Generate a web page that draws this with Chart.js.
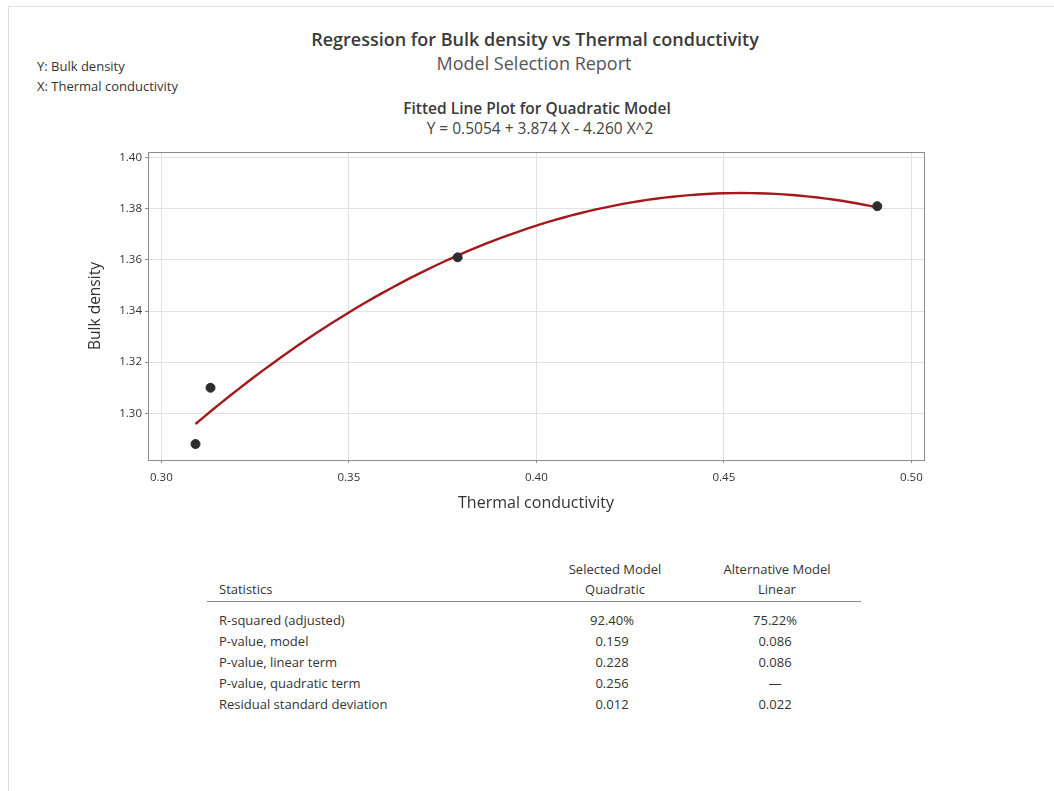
<!DOCTYPE html>
<html>
<head>
<meta charset="utf-8">
<script src="https://cdn.jsdelivr.net/npm/chart.js@4/dist/chart.umd.min.js"></script>
<style>
  html, body { margin: 0; padding: 0; background: #fff; }
  body { width: 1054px; height: 791px; position: relative; overflow: hidden;
         font-family: "Open Sans", "Noto Sans", sans-serif; color: #333; }
  .pane { position: absolute; left: 8px; top: 6px; width: 1100px; height: 900px;
          border-left: 1px solid #dedede; border-top: 1px solid #dedede; }
  .txt { position: absolute; white-space: nowrap; }
  .c { text-align: center; width: 600px; }
  #chartBox { position: absolute; left: 0; top: 0; width: 1054px; height: 520px; }
  #chart { display: block; }
</style>
</head>
<body>
<div class="pane"></div>
<div class="txt c" style="left:235px; top:27px; font-size:18px; font-weight:600; line-height:24px; color:#3a3a3a;">Regression for Bulk density vs Thermal conductivity</div>
<div class="txt c" style="left:234px; top:51px; font-size:18px; line-height:24px; color:#555;">Model Selection Report</div>
<div class="txt" style="left:37px; top:58px; font-size:13px; line-height:16px;">Y: Bulk density</div>
<div class="txt" style="left:37px; top:78px; font-size:13px; line-height:16px;">X: Thermal conductivity</div>
<div class="txt c" style="left:237px; top:98px; font-size:15.5px; font-weight:600; line-height:20px; color:#3a3a3a;">Fitted Line Plot for Quadratic Model</div>
<div class="txt c" id="eq" style="left:240px; top:118px; font-size:15.5px; line-height:20px; color:#444;"></div>
<div id="chartBox"><canvas id="chart" width="1054" height="520"></canvas></div>
<div id="table"></div>
<script>
// Observed data
const thermalConductivity = [0.3091, 0.3131, 0.3790, 0.4909];
const bulkDensity = [1.288, 1.310, 1.361, 1.381];

// Quadratic fit coefficients: Y = b0 + b1 X + b2 X^2
const fitCoefficients = [0.5054, 3.874, -4.260];

// Axis ticks
const xTicks = [0.30, 0.35, 0.40, 0.45, 0.50];
const yTicks = [1.30, 1.32, 1.34, 1.36, 1.38, 1.40];

// Model selection statistics
const statNames = ["R-squared (adjusted)", "P-value, model", "P-value, linear term", "P-value, quadratic term", "Residual standard deviation"];
const quadraticStats = ["92.40%", "0.159", "0.228", "0.256", "0.012"];
const linearStats = ["75.22%", "0.086", "0.086", "\u2014", "0.022"];

document.getElementById('eq').textContent =
  "Y = " + fitCoefficients[0].toFixed(4) + " + " + fitCoefficients[1].toFixed(3) +
  " X - " + Math.abs(fitCoefficients[2]).toFixed(3) + " X^2";

// Fitted curve over the range of the observed X values
const xMin = Math.min(...thermalConductivity), xMax = Math.max(...thermalConductivity);
const fitted = [];
const steps = 80;
for (let i = 0; i <= steps; i++) {
  const x = xMin + (xMax - xMin) * i / steps;
  fitted.push({ x: x, y: fitCoefficients[0] + fitCoefficients[1] * x + fitCoefficients[2] * x * x });
}
const observed = thermalConductivity.map((x, i) => ({ x: x, y: bulkDensity[i] }));

// Box around the plotting area
const frame = {
  id: 'frame',
  afterDatasetsDraw(chart) {
    const a = chart.chartArea, ctx = chart.ctx;
    ctx.save();
    ctx.strokeStyle = '#8c8c8c';
    ctx.lineWidth = 1;
    ctx.strokeRect(Math.round(a.left) + 0.5, Math.round(a.top) + 0.5,
                   Math.round(a.right - a.left), Math.round(a.bottom - a.top));
    ctx.restore();
  }
};

const CHART_LEFT = 148, CHART_RIGHT = 924, CHART_TOP = 152, CHART_BOTTOM = 460, H = 520;

new Chart(document.getElementById('chart'), {
  type: 'scatter',
  data: {
    datasets: [
      { type: 'line', data: fitted, borderColor: '#a3191c', borderWidth: 2.4,
        pointRadius: 0, fill: false, tension: 0, order: 2 },
      { data: observed, backgroundColor: '#2e2e2e', borderColor: '#2e2e2e',
        pointRadius: 4.5, pointHoverRadius: 4.5, order: 1 }
    ]
  },
  plugins: [frame],
  options: {
    responsive: false,
    animation: false,
    events: [],
    layout: { padding: { left: 0, right: 1054 - CHART_RIGHT, top: CHART_TOP, bottom: 0 } },
    plugins: { legend: { display: false }, tooltip: { enabled: false } },
    scales: {
      x: {
        type: 'linear',
        min: 0.29643, max: 0.50336,
        afterBuildTicks(s) { s.ticks = xTicks.map(v => ({ value: v })); },
        afterFit(s) { s.height = H - CHART_BOTTOM; },
        grid: { color: '#e2e2e2', tickColor: '#8c8c8c', tickLength: 3 },
        border: { color: '#8c8c8c' },
        ticks: { color: '#333', font: { family: "Open Sans", size: 11.5 }, padding: 8,
                 maxRotation: 0, callback: v => v.toFixed(2) },
        title: { display: true, text: 'Thermal conductivity', color: '#333',
                 font: { family: "Open Sans", size: 16 }, padding: { top: 0, bottom: 7 } }
      },
      y: {
        type: 'linear',
        min: 1.28176, max: 1.40219,
        afterBuildTicks(s) { s.ticks = yTicks.map(v => ({ value: v })); },
        afterFit(s) { s.width = CHART_LEFT; },
        grid: { color: '#e2e2e2', tickColor: '#8c8c8c', tickLength: 3 },
        border: { color: '#8c8c8c' },
        ticks: { color: '#333', font: { family: "Open Sans", size: 11.5 }, padding: 3,
                 callback: v => v.toFixed(2) },
        title: { display: true, text: 'Bulk density', color: '#333',
                 font: { family: "Open Sans", size: 15.5 }, padding: { top: 86, bottom: 0 } }
      }
    }
  }
});

// Statistics table
const table = document.getElementById('table');
function put(text, x, y, align) {
  const d = document.createElement('div');
  d.className = 'txt';
  d.textContent = text;
  d.style.fontSize = '13px';
  d.style.lineHeight = '16px';
  d.style.top = (y - 8) + 'px';
  if (align === 'center') { d.style.left = (x - 100) + 'px'; d.style.width = '200px'; d.style.textAlign = 'center'; }
  else d.style.left = x + 'px';
  table.appendChild(d);
}
put('Selected Model', 615, 569, 'center');
put('Quadratic', 615, 589, 'center');
put('Alternative Model', 777, 569, 'center');
put('Linear', 777, 589, 'center');
put('Statistics', 219, 589, 'left');
const rule = document.createElement('div');
Object.assign(rule.style, { position: 'absolute', left: '207px', top: '601px', width: '654px', height: '1px', background: '#8c8c8c' });
table.appendChild(rule);
statNames.forEach((name, i) => {
  const y = 620 + i * 21;
  put(name, 219, y, 'left');
  put(quadraticStats[i], 612, y, 'center');
  put(linearStats[i], 775, y, 'center');
});
</script>
</body>
</html>
